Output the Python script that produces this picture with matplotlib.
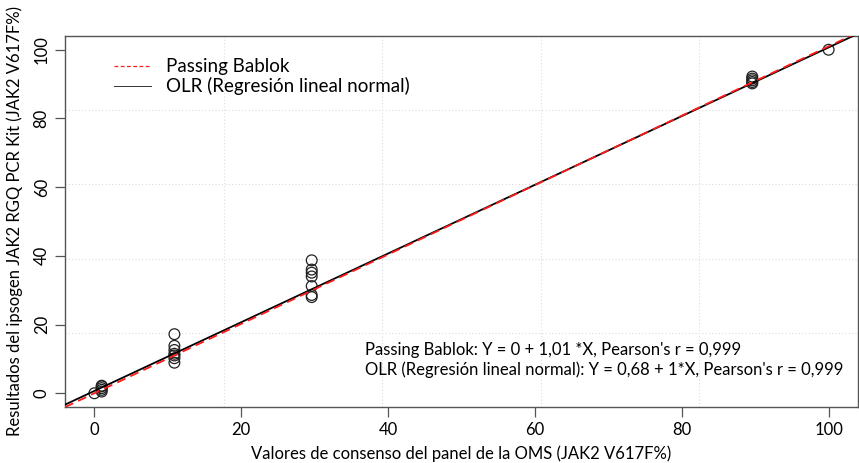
import numpy as np
import matplotlib.pyplot as plt

plt.rcParams['font.family'] = ['Lato', 'DejaVu Sans']

# consensus values (x) and kit results (y)
x_vals = [0, 1, 1, 1, 1, 1,
          10.9, 10.9, 10.9, 10.9, 10.9, 10.9, 10.9,
          29.6, 29.6, 29.6, 29.6, 29.6, 29.6, 29.6,
          89.6, 89.6, 89.6, 89.6, 89.6,
          100]
y_vals = [0, 0.5, 1.0, 1.5, 2.0, 2.2,
          17.2, 13.8, 12.6, 11.5, 11.0, 10.2, 8.9,
          38.7, 36.0, 35.1, 34.0, 31.2, 28.6, 28.0,
          92.2, 91.6, 91.1, 90.6, 90.2,
          100]

pb_int, pb_slope = 0, 1.01
olr_int, olr_slope = 0.68, 1.0

xlim = (-4, 104)
ylim = (-4, 104)
ticks = [0, 20, 40, 60, 80, 100]

fig = plt.figure(figsize=(8.59, 4.63), dpi=100)
ax = fig.add_axes([65 / 859, 56 / 463, 793 / 859, 371 / 463])
ax.set_xlim(xlim)
ax.set_ylim(ylim)

# grid like R grid(): 5 equal cells across the plot range
gx = np.linspace(xlim[0], xlim[1], 6)[1:-1]
gy = np.linspace(ylim[0], ylim[1], 6)[1:-1]
for g in gx:
    ax.axvline(g, color='#dddddd', lw=0.8, ls=(0, (1, 2)), zorder=0)
for g in gy:
    ax.axhline(g, color='#dddddd', lw=0.8, ls=(0, (1, 2)), zorder=0)

ax.scatter(x_vals, y_vals, s=60, facecolors='none', edgecolors='#222222',
           linewidths=0.9, zorder=3)

xx = np.array(xlim)
ax.plot(xx, olr_int + olr_slope * xx, color='black', lw=1.3, zorder=4,
        label='OLR (Regresión lineal normal)')
ax.plot(xx, pb_int + pb_slope * xx, color='#ff1a1a', lw=1.3, ls=(0, (5, 3)),
        zorder=5, label='Passing Bablok')

for s in ax.spines.values():
    s.set_color('#555555')
    s.set_linewidth(1.0)

ax.set_xticks(ticks)
ax.set_yticks(ticks)
ax.tick_params(direction='out', length=7, width=0.9, color='#555555',
               labelsize=12, pad=4)
plt.setp(ax.get_yticklabels(), rotation=90, va='center')

ax.set_xlabel('Valores de consenso del panel de la OMS (JAK2 V617F%)',
              fontsize=12, labelpad=5)
ax.set_ylabel('Resultados del ipsogen JAK2 RGQ PCR Kit (JAK2 V617F%)',
              fontsize=12, labelpad=8)

h, l = ax.get_legend_handles_labels()
leg = ax.legend(h[::-1], l[::-1], loc='upper left', bbox_to_anchor=(0.04, 0.985),
                frameon=False, fontsize=13.5, handlelength=2.0,
                handletextpad=0.8, labelspacing=0.1)
leg.get_lines()[0].set_linewidth(0.9)
leg.get_lines()[0].set_dashes((3, 2))
leg.get_lines()[1].set_linewidth(0.7)
leg.get_lines()[1].set_color('#333333')

ax.text(0.378, 0.175,
        "Passing Bablok: Y = 0 + 1,01 *X, Pearson's r = 0,999\n"
        "OLR (Regresión lineal normal): Y = 0,68 + 1*X, Pearson's r = 0,999",
        transform=ax.transAxes, fontsize=12, va='top', ha='left',
        linespacing=1.25)

fig.savefig('out.png', dpi=100)
